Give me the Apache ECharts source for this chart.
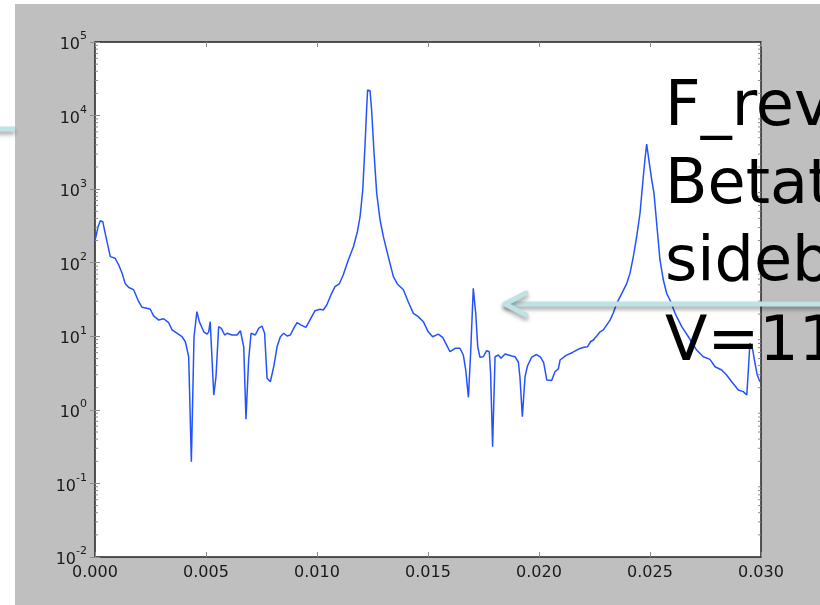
<!DOCTYPE html>
<html>
<head>
<meta charset="utf-8">
<script src="https://cdn.jsdelivr.net/npm/echarts@6/dist/echarts.min.js"></script>
<style>
html,body{margin:0;padding:0;background:#fff;}
#c{width:820px;height:605px;}
</style>
</head>
<body>
<div id="c"></div>
<script>
const freqs = [0.00000,0.00014,0.00024,0.00035,0.00046,0.00069,0.00091,0.00107,0.00122,0.00136,0.00152,0.00174,0.00197,0.00212,0.00234,0.00249,0.00264,0.00287,0.00309,0.00332,0.00347,0.00369,0.00392,0.00407,0.00422,0.00434,0.00446,0.00459,0.00470,0.00490,0.00505,0.00512,0.00519,0.00535,0.00545,0.00557,0.00569,0.00584,0.00595,0.00617,0.00640,0.00655,0.00670,0.00680,0.00692,0.00703,0.00722,0.00737,0.00752,0.00764,0.00775,0.00790,0.00805,0.00820,0.00835,0.00850,0.00865,0.00880,0.00895,0.00910,0.00929,0.00950,0.00968,0.00991,0.01014,0.01028,0.01044,0.01066,0.01081,0.01100,0.01118,0.01141,0.01164,0.01182,0.01194,0.01206,0.01216,0.01224,0.01228,0.01239,0.01246,0.01257,0.01269,0.01284,0.01299,0.01321,0.01344,0.01362,0.01389,0.01411,0.01434,0.01456,0.01479,0.01501,0.01521,0.01546,0.01566,0.01584,0.01599,0.01622,0.01644,0.01659,0.01670,0.01682,0.01692,0.01704,0.01715,0.01724,0.01734,0.01749,0.01764,0.01776,0.01782,0.01791,0.01802,0.01817,0.01829,0.01847,0.01862,0.01877,0.01892,0.01907,0.01914,0.01925,0.01937,0.01948,0.01967,0.01989,0.02007,0.02021,0.02035,0.02057,0.02072,0.02087,0.02095,0.02122,0.02151,0.02178,0.02203,0.02218,0.02232,0.02245,0.02260,0.02275,0.02290,0.02320,0.02335,0.02350,0.02373,0.02395,0.02410,0.02425,0.02440,0.02455,0.02467,0.02477,0.02485,0.02497,0.02508,0.02518,0.02530,0.02545,0.02560,0.02575,0.02590,0.02613,0.02643,0.02673,0.02710,0.02740,0.02770,0.02793,0.02823,0.02845,0.02868,0.02898,0.02920,0.02936,0.02943,0.02950,0.02963,0.02973,0.02983,0.02995];
const amps = [200,308,372,361,251,121,115,93,72,52,46,43,29.5,24.8,24,23.3,18.9,16.6,17.3,15.3,12.2,11,9.86,8.43,5.27,0.197,9.86,21.6,15.8,11.5,10.7,11.5,15.8,1.59,2.82,13.5,12.8,10.4,11,10.4,10.4,11.9,7.2,0.745,4.76,11,10.4,12.8,13.8,11,2.69,2.41,3.85,7.2,9.86,11,10.1,10.4,12.8,15.3,14.2,13.2,16.6,22.3,23.3,22.8,26.6,38.4,47.2,51.4,68,109,165,264,422,973,3776,13200,22280,21780,11900,3070,877,381,226,121,64.6,51.4,43,29.5,20.5,18.5,15.8,11.5,9.86,10.7,9.68,7.6,6.17,6.87,6.87,5.57,3.48,1.48,5.87,44.9,20.5,7.2,5.18,5.27,6.37,6.17,3.14,0.316,5.27,5.57,5.02,5.74,5.57,5.4,5.27,4.47,2.82,0.807,2.82,3.94,5.2,5.65,5.2,4.4,2.55,2.5,3.3,3.6,4.76,5.5,6.03,6.7,7.08,7.2,8.43,8.9,10.1,11.5,12.2,16.6,20.9,28,38.4,52,72,121,226,470,1200,2490,4110,2245,1330,877,344,109,58.2,38.4,31.1,20.5,13.5,9.86,6.5,5.27,4.86,3.85,3.48,2.98,2.41,1.86,1.77,1.59,3.48,8.03,6.5,4.3,2.98,2.41];
const xTickLabels = ['0.000','0.005','0.010','0.015','0.020','0.025','0.030'];
const yTickLabels = ['-2','-1','0','1','2','3','4','5'];
const annotationLines = ['F_rev','Betat','sideb','V=11'];

const chart = echarts.init(document.getElementById('c'));
const lineData = freqs.map((f, i) => [f, amps[i]]);
const tickStyle = {show: true, inside: true, length: 5, lineStyle: {color: '#8a8a8a', width: 1}};

chart.setOption({
  animation: false,
  backgroundColor: '#ffffff',
  grid: {left: 95, top: 42, width: 666, height: 515, show: true, backgroundColor: '#ffffff', borderColor: '#222', borderWidth: 1.5, containLabel: false},
  xAxis: [
    {type: 'value', min: 0, max: 0.03, interval: 0.005, position: 'bottom',
     axisLine: {show: false}, axisTick: tickStyle, splitLine: {show: false},
     axisLabel: {margin: 8, color: '#1a1a1a', fontSize: 16, fontFamily: 'DejaVu Sans',
       formatter: v => xTickLabels[Math.round(v / 0.005)] || ''}},
    {type: 'value', min: 0, max: 0.03, interval: 0.005, position: 'top',
     axisLine: {show: false}, axisTick: tickStyle, splitLine: {show: false}, axisLabel: {show: false}}
  ],
  yAxis: [
    {type: 'log', logBase: 10, min: 0.01, max: 100000, splitNumber: 7, position: 'left',
     axisLine: {show: false}, axisTick: tickStyle, splitLine: {show: false},
     axisLabel: {margin: 8, color: '#1a1a1a',
       formatter: v => '{b|10}{s|' + yTickLabels[Math.round(Math.log10(v)) + 2] + '}',
       rich: {
         b: {fontSize: 16, fontFamily: 'DejaVu Sans', color: '#1a1a1a', lineHeight: 22, verticalAlign: 'bottom'},
         s: {fontSize: 11, fontFamily: 'DejaVu Sans', color: '#1a1a1a', lineHeight: 22, verticalAlign: 'top', padding: [0, 0, 0, 0]}
       }}},
    {type: 'log', logBase: 10, min: 0.01, max: 100000, splitNumber: 7, position: 'right',
     axisLine: {show: false}, axisTick: tickStyle, splitLine: {show: false}, axisLabel: {show: false}}
  ],
  series: [{
    type: 'line', data: lineData, showSymbol: false, symbol: 'none', smooth: false,
    lineStyle: {color: '#2452ff', width: 1.5}, clip: true, z: 3
  }]
});

const g = [];
g.push({type: 'rect', z: -10, shape: {x: 15, y: 4, width: 805, height: 601}, style: {fill: '#bfbfbf'}});
for (let d = -2; d < 5; d++) {
  for (let k = 2; k <= 9; k++) {
    const py = chart.convertToPixel({yAxisIndex: 0}, k * Math.pow(10, d));
    g.push({type: 'line', z: 5, shape: {x1: 95, y1: py, x2: 98, y2: py}, style: {stroke: '#8a8a8a', lineWidth: 1}});
    g.push({type: 'line', z: 5, shape: {x1: 761, y1: py, x2: 758, y2: py}, style: {stroke: '#8a8a8a', lineWidth: 1}});
  }
}
const baselines = [127, 205, 282, 362];
annotationLines.forEach((t, i) => {
  g.push({type: 'text', z: 100, style: {text: t, x: 665, y: baselines[i] - 49, font: '62px "DejaVu Sans"', fill: '#000',
    textAlign: 'left', align: 'left', textVerticalAlign: 'top', verticalAlign: 'top'}});
});
const arrowStyle = {stroke: '#bfe2e5', lineWidth: 5, shadowBlur: 4, shadowColor: 'rgba(0,0,0,0.35)', shadowOffsetY: 3, lineCap: 'round', lineJoin: 'round'};
g.push({type: 'polyline', z: 90, shape: {points: [[830, 304], [506, 304]]}, style: arrowStyle});
g.push({type: 'polyline', z: 90, shape: {points: [[526, 293], [505, 304], [526, 315]]}, style: Object.assign({}, arrowStyle, {fill: null})});
g.push({type: 'polyline', z: 90, shape: {points: [[-5, 129], [15, 129]]}, style: Object.assign({}, arrowStyle, {lineCap: 'butt'})});
chart.setOption({graphic: g});
</script>
</body>
</html>
